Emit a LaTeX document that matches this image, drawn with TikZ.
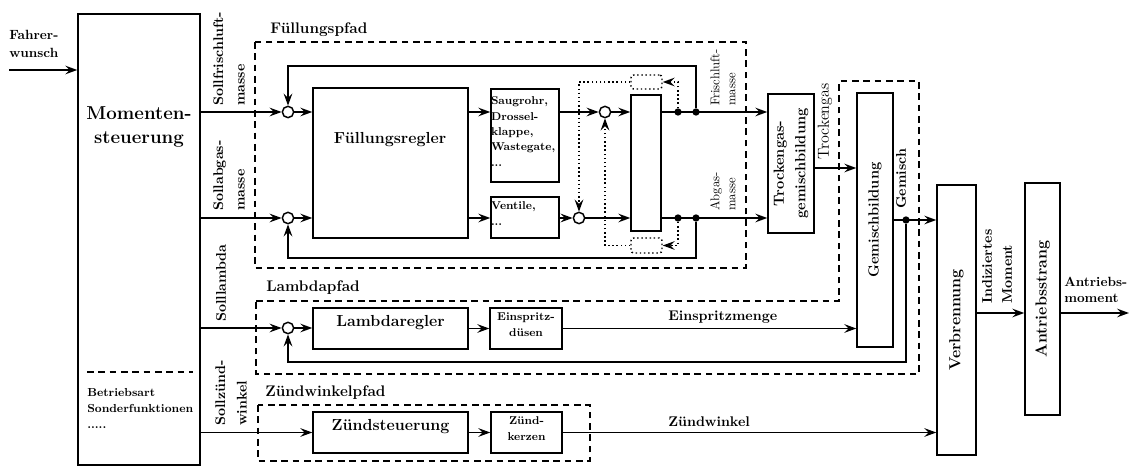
\documentclass[tikz,border=0pt]{standalone}
\usetikzlibrary{arrows.meta,fit}
\newcommand{\fsz}[2]{\fontsize{#1}{#2}\selectfont}
\begin{document}
\begin{tikzpicture}[x=0.75pt,y=-0.75pt,
  ln/.style={line width=1.1pt},
  arr/.style={ln,-{Stealth[length=9pt,width=6.5pt,inset=3.2pt]}},
  blk/.style={draw,ln,inner sep=0pt},
  sumc/.style={circle,draw,ln,fill=white,minimum size=8.5pt,inner sep=0pt},
  junc/.style={circle,fill,inner sep=0pt,minimum size=5.5pt},
  pathbox/.style={ln,dash pattern=on 5pt off 3.5pt},
  delayarr/.style={ln,dotted,-{Stealth[length=9pt,width=6.5pt,inset=3.2pt]}},
  delaybox/.style={draw,ln,dotted,rounded corners=2pt,inner sep=0pt},
  txt/.style={inner sep=0pt},
  rot/.style={inner sep=0pt,rotate=90},
  bigb/.style={font=\bfseries\fsz{12}{14}},
  smallb/.style={font=\bfseries\fsz{8.5}{11.5}},
  sollb/.style={font=\bfseries\fsz{10.5}{16},align=left,anchor=west},
  pathlbl/.style={inner sep=0pt,anchor=west,font=\bfseries\fsz{11.5}{14}}
]
\useasboundingbox (0,0) rectangle (1129,466);

% ---------------- Momentensteuerung
\node[blk,fit={(78,14)(200,465)}] (ms) {};
\node[txt,font=\bfseries\fsz{14}{18},align=center] (mst) at (139,127) {Momenten-\\steuerung};
\draw[pathbox] (87,372) -- (193,372);
\node[txt,font=\bfseries\fsz{8.7}{12},align=left,anchor=north west] (bsf) at (87,388) {Betriebsart\\Sonderfunktionen\\.....};

% Fahrerwunsch
\node[txt,font=\bfseries\fsz{10}{13.5},align=left,anchor=west] (fwt) at (9,44) {Fahrer-\\wunsch};
\coordinate (fwin) at (9,70);
\draw[arr] (fwin) -- (fwin -| ms.west);

% Soll labels
\node[rot,sollb] (l1) at (229,106) {Sollfrischluft-\\masse};
\node[rot,sollb] (l2) at (229,211) {Sollabgas-\\masse};
\node[rot,sollb] (l3) at (221,322) {Solllambda};
\node[rot,sollb] (l4) at (231,426) {Sollzünd-\\winkel};

% ---------------- path frames
\draw[pathbox] (255,42) rectangle (746,268);
\node[pathlbl] (fpl) at (270,30) {Füllungspfad};
\draw[pathbox] (256,301) -- (839,301) -- (839,81) -- (919,81) -- (919,374) -- (256,374) -- cycle;
\node[pathlbl] (lpl) at (266,288) {Lambdapfad};
\draw[pathbox] (258,405) rectangle (590,461);
\node[pathlbl] (zpl) at (265,393) {Zündwinkelpfad};

% ---------------- Füllungspfad blocks
\node[sumc] (c1) at (288,112) {};
\node[sumc] (c2) at (288,218) {};
\node[blk,fit={(313,88)(468,238)}] (fr) {};
\node[txt,bigb] (frt) at (390,140) {Füllungsregler};
\node[blk,fit={(491,89)(559,182)},smallb,align=left] (sg) {Saugrohr,\\Drossel-\\klappe,\\Wastegate,\\...};
\node[blk,fit={(491,197)(559,238)},smallb,align=left] (ve) {Ventile,\\...\phantom{Ventile}};
\node[sumc] (c4) at (605,112) {};
\node[sumc] (c5) at (579,218) {};
\node[blk,fit={(631,95)(661,231)}] (tb) {};
\node[delaybox,fit={(631,75)(662,89)}] (dl1) {};
\node[delaybox,fit={(631,238)(662,253)}] (dl2) {};
\node[junc] (d1) at (678,112) {};
\node[junc] (d2) at (696,112) {};
\node[junc] (d3) at (678,218) {};
\node[junc] (d4) at (696,218) {};
\coordinate (fbt) at (696,66);
\coordinate (fbb) at (696,258);

\draw[arr] (ms.east |- c1) -- (c1.west);
\draw[arr] (ms.east |- c2) -- (c2.west);
\draw[arr] (c1.east) -- (c1.east -| fr.west);
\draw[arr] (c2.east) -- (c2.east -| fr.west);
\draw[arr] (fr.east |- c1) -- (sg.west |- c1);
\draw[arr] (fr.east |- c2) -- (ve.west |- c2);
\draw[arr] (sg.east |- c4) -- (c4.west);
\draw[arr] (c4.east) -- (c4.east -| tb.west);
\draw[arr] (ve.east |- c5) -- (c5.west);
\draw[arr] (c5.east) -- (c5.east -| tb.west);
\draw[arr] (d2) -- (fbt) -| (c1.north);
\draw[arr] (d4) -- (fbb) -| (c2.south);
\draw[delayarr] (d1) |- (dl1.east);
\draw[delayarr] (dl1.west) -| (c5.north);
\draw[delayarr] (d3) |- (dl2.east);
\draw[delayarr] (dl2.west) -| (c4.south);

\node[rot,font=\fsz{9.5}{12},align=left,anchor=west] (frl) at (723,106) {Frischluft-\\masse};
\node[rot,font=\fsz{9.5}{12},align=left,anchor=west] (abl) at (723,211) {Abgas-\\masse};

% ---------------- Gemischbildung
\node[blk,fit={(768,94)(814,233)}] (tg) {};
\node[rot,font=\bfseries\fsz{11}{16},align=center] (tgt) at (tg.center) {Trockengas-\\gemischbildung};
\draw[arr] (tb.east |- d2) -- (tg.west |- d2);
\draw[arr] (tb.east |- d4) -- (tg.west |- d4);
\node[blk,fit={(857,93)(893,347)}] (gb) {};
\node[rot,font=\bfseries\fsz{11}{14}] (gbt) at (gb.center) {Gemischbildung};
\coordinate (tgo) at (814,168);
\draw[arr] (tgo) -- (tgo -| gb.west);
\node[rot,font=\fsz{12}{15},anchor=west] (tgl) at (825,160) {Trockengas};

% ---------------- Lambdapfad
\node[sumc] (c3) at (288,328) {};
\node[blk,fit={(313,308)(468,349)},bigb] (lr) {Lambdaregler};
\node[blk,fit={(490,308)(562,349)},smallb,align=center] (ed) {Einspritz-\\düsen};
\draw[arr] (ms.east |- c3) -- (c3.west);
\draw[arr] (c3.east) -- (c3.east -| lr.west);
\draw[arr] (lr.east) -- (ed.west);
\draw[arr] (ed.east) -- (ed.east -| gb.west);
\node[txt,font=\bfseries\fsz{10.5}{12},anchor=west] (eml) at (668,317) {Einspritzmenge};

% ---------------- Zündwinkelpfad
\node[blk,fit={(313,412)(468,453)},bigb] (zs) {Zündsteuerung};
\node[blk,fit={(491,412)(562,453)},smallb,align=center] (zk) {Zünd-\\kerzen};
\draw[arr] (ms.east |- zs) -- (zs.west);
\draw[arr] (zs.east) -- (zk.west);

% ---------------- Verbrennung, Antriebsstrang
\node[blk,fit={(937,185)(976,455)}] (vb) {};
\node[rot,bigb] (vbt) at (vb.center) {Verbrennung};
\node[blk,fit={(1025,183)(1060,415)}] (as) {};
\node[rot,bigb] (ast) at (as.center) {Antriebsstrang};
\draw[arr] (zk.east) -- (zk.east -| vb.west);
\node[txt,font=\bfseries\fsz{10.5}{12},anchor=west] (zwl) at (668,422) {Zündwinkel};

\node[junc] (d5) at (906,220) {};
\draw[arr] (gb.east) -- (gb.east -| vb.west);
\coordinate (fbl) at (906,362);
\draw[arr] (d5) -- (fbl) -| (c3.south);
\node[rot,font=\bfseries\fsz{10.5}{15},anchor=west] (gml) at (901,209) {Gemisch};

\coordinate (im) at (1000,313);
\coordinate (amend) at (1129,313);
\draw[arr] (vb.east |- im) -- (as.west |- im);
\draw[arr] (as.east |- im) -- (amend);
\node[rot,font=\bfseries\fsz{10.5}{15},align=left,anchor=west] (iml) at (997,304) {Indiziertes\\Moment};
\node[txt,font=\bfseries\fsz{10}{12.5},align=left,anchor=west] (aml) at (1064,290) {Antriebs-\\moment};
\end{tikzpicture}
\end{document}
